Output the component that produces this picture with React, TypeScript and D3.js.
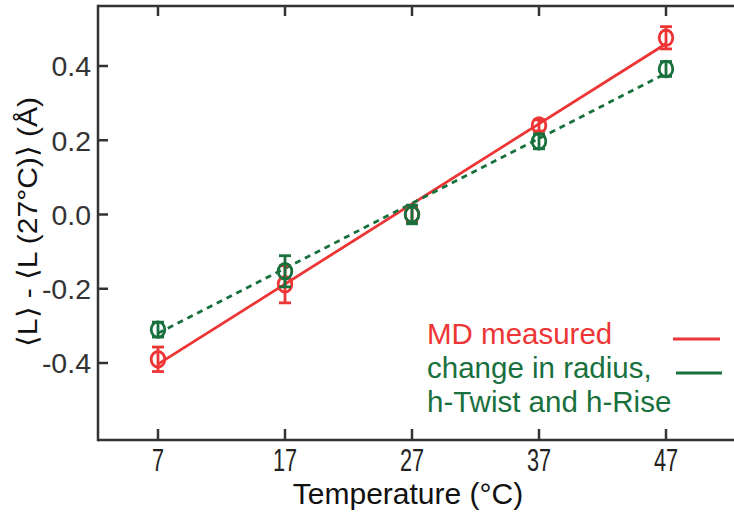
import React from "react";
import * as d3 from "d3";

const temps = [7, 17, 27, 37, 47];
const xTickLabels = ["7", "17", "27", "37", "47"];
const yTicks = [-0.4, -0.2, 0.0, 0.2, 0.4];
const yTickLabels = ["-0.4", "-0.2", "0.0", "0.2", "0.4"];
const mdValues = [-0.39, -0.188, 0.0, 0.24, 0.476];
const mdErrors = [0.033, 0.05, 0.02, 0.015, 0.03];
const geoValues = [-0.31, -0.153, 0.0, 0.197, 0.392];
const geoErrors = [0.02, 0.042, 0.025, 0.02, 0.02];
const mdFit = [-0.403, 0.46];
const geoFit = [-0.32, 0.38];
const legendLines = ["MD measured", "change in radius,", "h-Twist and h-Rise"];

const RED = "#ee3535";
const GREEN = "#18703d";
const AXIS = "#333333";
const FONT = "'Liberation Sans', Arial, Helvetica, sans-serif";

export default function App() {
  const W = 734, H = 524;
  const left = 98, top = 6, bottom = 440, right = 734;
  const x = d3.scaleLinear().domain([7, 47]).range([158, 666]);
  const y = d3.scaleLinear().domain([-0.4, 0.4]).range([363, 66]);
  const line = d3.line<[number, number]>().x(d => x(d[0])).y(d => y(d[1]));
  const fitX = [temps[0], temps[temps.length - 1]];

  const points = (vals: number[], errs: number[], color: string) =>
    temps.map((t, i) => {
      const cx = x(t), cy = y(vals[i]);
      const y1 = y(vals[i] + errs[i]), y2 = y(vals[i] - errs[i]);
      return (
        <g key={t} stroke={color} strokeWidth={2.8} fill="none">
          <line x1={cx} x2={cx} y1={Math.min(y1, cy - 8)} y2={Math.max(y2, cy + 8)} />
          <line x1={cx - 6} x2={cx + 6} y1={y1} y2={y1} />
          <line x1={cx - 6} x2={cx + 6} y1={y2} y2={y2} />
          <ellipse cx={cx} cy={cy} rx={6.8} ry={7.8} />
        </g>
      );
    });

  return (
    <svg width={W} height={H} style={{ position: "absolute", left: 0, top: 0 }} fontFamily={FONT}>
      <rect width={W} height={H} fill="#fff" />
      <g stroke={AXIS} strokeWidth={2.5} fill="none">
        <line x1={left} x2={right} y1={top} y2={top} />
        <line x1={left} x2={right} y1={bottom} y2={bottom} />
        <line x1={left} x2={left} y1={top - 1.25} y2={bottom + 1.25} />
        {temps.map(t => (
          <g key={t}>
            <line x1={x(t)} x2={x(t)} y1={top} y2={top + 10} />
            <line x1={x(t)} x2={x(t)} y1={bottom} y2={bottom - 11} />
          </g>
        ))}
        {yTicks.map(v => (
          <line key={v} x1={left} x2={left + 10} y1={y(v)} y2={y(v)} />
        ))}
      </g>
      {yTicks.map((v, i) => (
        <text key={v} x={91} y={y(v)} dy="0.36em" textAnchor="end" fontSize={28.5} fill={AXIS}>
          {yTickLabels[i]}
        </text>
      ))}
      {temps.map((t, i) => (
        <text key={t} transform={`translate(${x(t)},471) scale(0.7,1)`} textAnchor="middle" fontSize={31} fill="#222">
          {xTickLabels[i]}
        </text>
      ))}
      <text x={408} y={504} textAnchor="middle" fontSize={30} fill="#111">Temperature (°C)</text>
      <text transform="translate(37,222) rotate(-90)" textAnchor="middle" fontSize={28} fill="#111"
        textLength={250} lengthAdjust="spacingAndGlyphs">
        ⟨L⟩ - ⟨L (27°C)⟩ (Å)
      </text>
      <path d={line(fitX.map((t, i) => [t, mdFit[i]]) as [number, number][]) || ""} stroke={RED} strokeWidth={2.8} fill="none" />
      <path d={line(fitX.map((t, i) => [t, geoFit[i]]) as [number, number][]) || ""} stroke={GREEN} strokeWidth={2.8} fill="none" strokeDasharray="6,5" />
      {points(mdValues, mdErrors, RED)}
      {points(geoValues, geoErrors, GREEN)}
      <text x={427} y={344} fontSize={29.5} fill={RED}>{legendLines[0]}</text>
      <text x={427} y={378} fontSize={29.5} fill={GREEN}>{legendLines[1]}</text>
      <text x={427} y={412} fontSize={29.5} fill={GREEN}>{legendLines[2]}</text>
      <line x1={673} x2={720} y1={339} y2={339} stroke={RED} strokeWidth={2.8} />
      <line x1={676} x2={722} y1={373} y2={373} stroke={GREEN} strokeWidth={2.8} />
    </svg>
  );
}
